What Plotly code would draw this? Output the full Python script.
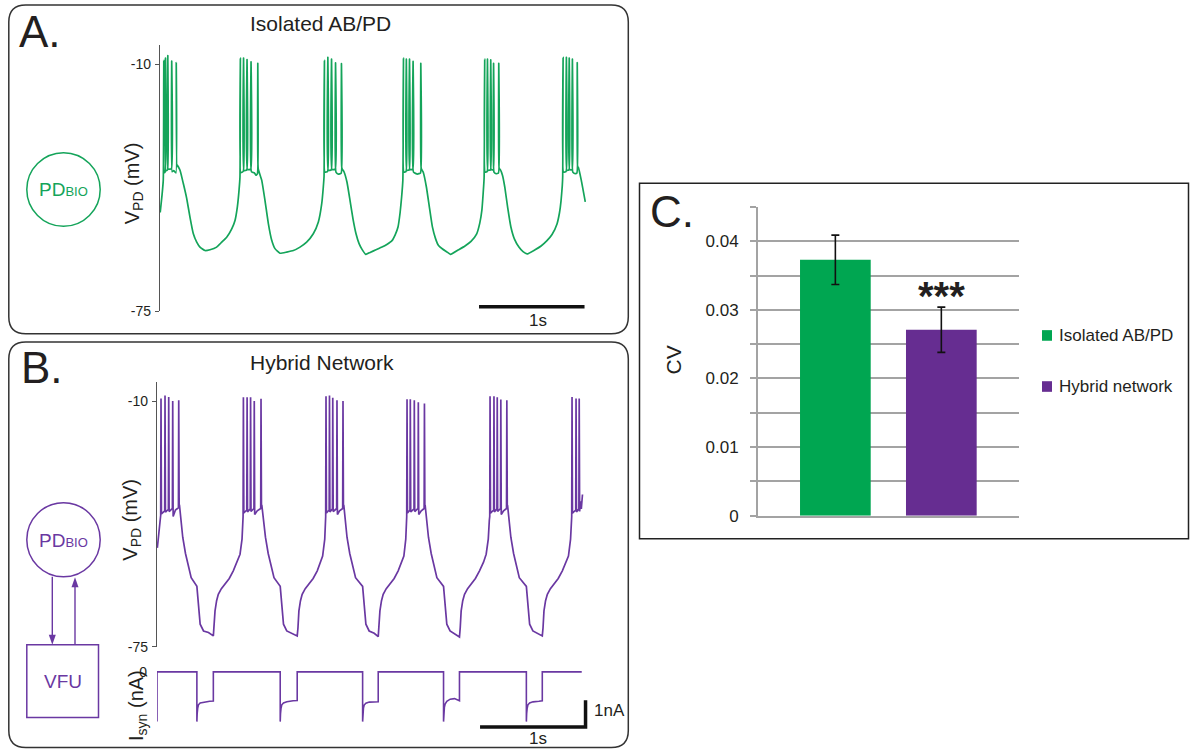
import plotly.graph_objects as go

# ---------------- data ----------------
# Panel A: membrane potential of the isolated AB/PD neuron, (time ms, mV)
vpd_isolated = [
    (2, -49.0), (19, -44.5), (31, -40.5),
    (36, -9.0), (40, -38.5), (49, -38.3), (52, -8.4), (56, -38.0), (71, -37.8), (74, -7.8), (78, -37.6),
    (108, -37.5), (111, -9.2), (115, -38.3), (130, -38.0), (151, -38.6), (154, -9.6), (158, -37.0), (163, -36.5),
    (190, -37.9), (221, -41.4), (253, -45.3), (284, -50.2), (316, -54.6), (348, -56.8), (379, -58.1), (427, -59.0),
    (474, -58.8), (537, -58.1), (585, -56.8), (632, -55.5), (680, -53.3), (711, -51.1), (733, -47.6), (749, -43.2),
    (758, -39.7),
    (762, -8.4), (766, -38.5), (789, -38.2), (792, -8.4), (796, -38.0), (822, -37.8), (825, -8.8), (829, -37.7),
    (860, -37.6), (863, -9.4), (867, -38.3), (895, -38.6), (910, -39.2), (924, -38.8), (927, -9.8), (931, -37.5),
    (964, -40.5), (995, -45.8), (1027, -51.9), (1059, -56.3), (1090, -58.5), (1137, -59.7), (1201, -59.4), (1264, -59.0),
    (1327, -58.1), (1390, -56.8), (1453, -54.6), (1501, -51.5), (1533, -46.7), (1548, -42.3), (1555, -39.5),
    (1559, -9.0), (1563, -38.4), (1588, -38.2), (1591, -8.2), (1595, -37.9), (1623, -37.8), (1626, -8.7), (1630, -37.7),
    (1661, -37.6), (1664, -9.7), (1668, -38.4), (1690, -38.9), (1717, -38.7), (1720, -9.9), (1724, -37.4), (1744, -38.3),
    (1772, -41.0), (1801, -45.8), (1830, -50.8), (1858, -54.6), (1887, -57.2), (1915, -58.7), (1950, -60.0), (1991, -59.5),
    (2047, -58.8), (2104, -58.1), (2150, -57.4), (2199, -56.4), (2230, -54.8), (2256, -52.8), (2276, -49.0), (2290, -45.0),
    (2302, -40.5),
    (2308, -8.4), (2312, -38.4), (2332, -38.2), (2335, -8.7), (2339, -37.9), (2362, -37.8), (2365, -8.7), (2369, -37.7),
    (2396, -37.6), (2399, -9.3), (2403, -38.4), (2440, -38.9), (2469, -38.6), (2472, -9.8), (2476, -37.4), (2496, -38.5),
    (2525, -42.3), (2553, -47.5), (2582, -52.8), (2611, -55.8), (2640, -57.7), (2678, -58.6), (2716, -59.3), (2754, -60.0),
    (2830, -58.8), (2891, -57.8), (2948, -56.6), (3002, -54.6), (3031, -51.8), (3051, -48.4), (3063, -44.0), (3072, -40.0),
    (3078, -8.7), (3082, -38.4), (3101, -38.2), (3104, -8.7), (3108, -37.9), (3132, -37.8), (3135, -8.9), (3139, -37.7),
    (3159, -37.8), (3162, -9.8), (3166, -38.4), (3185, -38.8), (3208, -38.6), (3211, -9.8), (3215, -37.4), (3227, -37.8),
    (3246, -39.2), (3268, -42.3), (3296, -47.8), (3326, -52.8), (3360, -56.0), (3402, -58.1), (3441, -59.3), (3479, -59.9),
    (3555, -58.8), (3612, -57.8), (3668, -56.4), (3716, -54.8), (3763, -52.0), (3787, -49.0), (3801, -46.0), (3813, -42.0),
    (3817, -39.6),
    (3821, -8.2), (3825, -38.4), (3849, -38.2), (3852, -8.2), (3856, -37.9), (3876, -37.8), (3879, -8.4), (3883, -37.7),
    (3906, -37.8), (3909, -8.7), (3913, -38.4), (3935, -38.8), (3952, -38.6), (3955, -9.6), (3959, -37.0), (3966, -37.2),
    (3993, -40.5), (4031, -46.2),
]

# Panel B: membrane potential in the hybrid network, (time ms, mV)
vpd_hybrid = [
    (3, -48.8), (14, -45.0), (31, -40.8),
    (35, -40.2), (38, -9.3), (42, -39.8), (73, -39.0), (76, -8.5), (80, -39.4), (108, -38.6), (111, -8.9), (115, -39.2),
    (146, -38.4), (149, -10.0), (153, -40.5), (175, -38.8), (203, -38.2), (206, -9.8), (210, -37.4),
    (213, -37.5), (244, -46.0), (270, -50.3), (291, -53.0), (324, -56.7), (378, -59.0), (393, -63.8), (409, -69.0),
    (441, -70.8), (488, -71.2), (534, -72.1), (540, -70.0), (550, -65.5), (565, -62.8), (581, -61.1), (610, -59.6),
    (645, -58.4), (685, -56.9), (723, -54.9), (760, -52.6), (787, -50.5), (806, -46.5), (814, -41.5),
    (816, -40.5), (819, -9.0), (823, -39.6), (851, -38.8), (854, -9.0), (858, -39.3), (884, -38.5), (887, -9.0), (891, -39.2),
    (919, -38.4), (922, -10.0), (926, -40.0), (950, -39.0), (983, -38.4), (986, -9.4), (990, -37.4),
    (994, -37.6), (1028, -46.0), (1054, -50.3), (1076, -53.0), (1109, -56.7), (1168, -59.0), (1183, -63.8), (1199, -69.0),
    (1230, -70.8), (1278, -71.4), (1329, -72.1), (1336, -70.0), (1345, -65.5), (1360, -62.8), (1376, -61.1), (1405, -59.6),
    (1440, -58.4), (1480, -56.9), (1519, -54.9), (1550, -52.6), (1570, -51.0), (1590, -46.5), (1597, -41.5),
    (1599, -40.5), (1602, -8.7), (1606, -39.6), (1632, -38.8), (1635, -8.5), (1639, -39.3), (1663, -38.5), (1666, -9.1), (1670, -39.2),
    (1703, -38.4), (1706, -9.8), (1710, -40.0), (1730, -39.0), (1760, -38.4), (1763, -10.0), (1767, -37.4),
    (1771, -37.6), (1801, -46.0), (1827, -50.3), (1848, -53.0), (1882, -56.7), (1949, -59.0), (1964, -63.8), (1980, -69.0),
    (2011, -70.8), (2059, -71.4), (2097, -72.3), (2103, -70.0), (2113, -65.5), (2128, -62.8), (2144, -61.1), (2173, -59.6),
    (2208, -58.4), (2248, -56.9), (2286, -54.9), (2318, -52.6), (2340, -51.0), (2358, -46.5), (2365, -41.5),
    (2367, -40.5), (2370, -9.5), (2374, -39.6), (2398, -38.8), (2401, -9.5), (2405, -39.3), (2436, -38.5), (2439, -9.8), (2443, -39.2),
    (2474, -38.4), (2477, -10.3), (2481, -40.0), (2505, -39.0), (2532, -38.4), (2535, -10.6), (2539, -37.4),
    (2542, -37.6), (2573, -46.0), (2599, -50.3), (2620, -53.0), (2653, -56.7), (2716, -59.0), (2731, -63.8), (2747, -69.0),
    (2778, -70.8), (2826, -71.6), (2867, -72.4), (2874, -70.0), (2883, -65.5), (2898, -62.8), (2915, -61.1), (2944, -59.6),
    (2978, -58.4), (3018, -56.9), (3057, -54.9), (3095, -52.6), (3120, -50.5), (3140, -46.5), (3150, -41.5),
    (3154, -40.5), (3157, -8.7), (3161, -39.6), (3191, -38.8), (3194, -8.7), (3198, -39.3), (3222, -38.5), (3225, -9.0), (3229, -39.2),
    (3256, -38.4), (3259, -9.6), (3263, -40.0), (3285, -39.0), (3313, -38.4), (3316, -9.8), (3320, -37.4),
    (3323, -37.6), (3354, -46.0), (3380, -50.3), (3401, -53.0), (3434, -56.7), (3501, -59.0), (3516, -63.8), (3532, -69.0),
    (3563, -70.8), (3611, -71.4), (3652, -72.1), (3659, -70.0), (3668, -65.5), (3683, -62.8), (3700, -61.1), (3729, -59.6),
    (3763, -58.4), (3803, -56.9), (3842, -54.9), (3878, -52.6), (3900, -51.0), (3920, -46.5), (3929, -41.5),
    (3931, -40.5), (3934, -8.9), (3938, -39.6), (3969, -38.8), (3972, -9.3), (3976, -39.3), (3999, -38.5), (4002, -9.3), (4006, -39.2),
    (4015, -36.5), (4022, -38.5), (4033, -34.7),
]

# Panel B: synaptic current from the VFU, (time ms, nA)
isyn_hybrid = [
    (0, -1.86), (0, 0.0),
    (378, 0.0), (378, -1.86), (381, -1.55), (386, -1.35), (393, -1.23), (409, -1.16), (441, -1.13), (500, -1.10), (534, -1.09), (534, 0.0),
    (1168, 0.0), (1168, -1.86), (1171, -1.55), (1176, -1.35), (1183, -1.23), (1199, -1.16), (1231, -1.12), (1290, -1.08), (1329, -1.07), (1329, 0.0),
    (1949, 0.0), (1949, -1.86), (1952, -1.55), (1957, -1.35), (1964, -1.24), (1980, -1.17), (2012, -1.13), (2060, -1.12), (2097, -1.12), (2097, 0.0),
    (2716, 0.0), (2716, -1.86), (2719, -1.55), (2724, -1.33), (2731, -1.20), (2747, -1.10), (2779, -1.02), (2820, -1.00), (2867, -1.08), (2867, 0.0),
    (3501, 0.0), (3501, -1.86), (3504, -1.55), (3509, -1.35), (3516, -1.23), (3532, -1.16), (3564, -1.12), (3620, -1.10), (3652, -1.08), (3652, 0.0),
    (4026, 0.0),
]

# Panel C: coefficient of variation
cv_groups = ["Isolated AB/PD", "Hybrid network"]
cv_means = [0.0373, 0.0271]
cv_errors = [0.0036, 0.0033]
cv_major_ticks = [0, 0.01, 0.02, 0.03, 0.04]
cv_minor_ticks = [0.005, 0.015, 0.025, 0.035, 0.045]
cv_ticktext = ["0", "0.01", "0.02", "0.03", "0.04"]
v_ticks = [-10, -75]
isyn_ticks = [0]

# ---------------- styling ----------------
W, H = 1196, 749          # reference canvas (layout positions are given in these pixels)
FIG_H = 760               # page height used for the figure
GREEN_TRACE = "#14a45a"
GREEN_BAR = "#00a651"
PURPLE_TRACE = "#6a38a2"
PURPLE_BAR = "#662d91"
INK = "#231f20"
AXIS = "#555555"
GRID = "#a3a3a3"
FONT = "Liberation Sans, Arial, sans-serif"
MS_PER_PX = 1000 / 105.5


def px(x):
    return x / W


def py(y):
    return 1 - y / H


a_t, a_v = zip(*vpd_isolated)
b_t, b_v = zip(*vpd_hybrid)
i_t, i_v = zip(*isyn_hybrid)

fig = go.Figure()
fig.add_trace(go.Scatter(x=a_t, y=a_v, mode="lines", line=dict(color=GREEN_TRACE, width=1.7, shape="spline", smoothing=0.4),
                         xaxis="x", yaxis="y", showlegend=False, hoverinfo="skip"))
fig.add_trace(go.Scatter(x=b_t, y=b_v, mode="lines", line=dict(color=PURPLE_TRACE, width=1.7),
                         xaxis="x2", yaxis="y2", showlegend=False, hoverinfo="skip"))
fig.add_trace(go.Scatter(x=i_t, y=i_v, mode="lines", line=dict(color=PURPLE_TRACE, width=1.6),
                         xaxis="x3", yaxis="y3", showlegend=False, hoverinfo="skip"))
bar_colors = [GREEN_BAR, PURPLE_BAR]
for name, m, e, c in zip(cv_groups, cv_means, cv_errors, bar_colors):
    fig.add_trace(go.Bar(x=["CV"], y=[m], name=name, marker=dict(color=c, line=dict(width=0)),
                         error_y=dict(type="data", array=[e], color="#111111", thickness=1.6, width=4),
                         xaxis="x4", yaxis="y4", showlegend=False))

span_a = 440 * MS_PER_PX
vaxis_common = dict(range=[-75, -5], tickvals=v_ticks, ticktext=[str(v) for v in v_ticks],
                    ticks="outside", ticklen=4, tickwidth=1.2, tickcolor=AXIS,
                    showline=True, linecolor=AXIS, linewidth=1.3, showgrid=False, zeroline=False,
                    tickfont=dict(size=14, color=INK, family=FONT), ticklabelstandoff=1)
fig.update_layout(
    xaxis=dict(domain=[px(160), px(600)], range=[0, span_a], visible=False, anchor="y"),
    yaxis=dict(domain=[py(311), py(45)], anchor="x", **vaxis_common),
    xaxis2=dict(domain=[px(157), px(597)], range=[0, span_a], visible=False, anchor="y2"),
    yaxis2=dict(domain=[py(646), py(381.7)], anchor="x2", **vaxis_common),
    xaxis3=dict(domain=[px(157), px(597)], range=[0, span_a], visible=False, anchor="y3"),
    yaxis3=dict(domain=[py(732), py(655)], anchor="x3", range=[-2.285, 0.599], tickvals=isyn_ticks,
                ticktext=[str(v) for v in isyn_ticks],
                ticks="", showline=False, showgrid=False, zeroline=False, ticklabelstandoff=9,
                tickfont=dict(size=14, color=INK, family=FONT)),
    xaxis4=dict(domain=[px(758), px(1018.7)], anchor="y4", type="category", showticklabels=False,
                ticks="", showline=True, linecolor=GRID, linewidth=2, showgrid=False, zeroline=False),
    yaxis4=dict(domain=[py(515), py(206.7)], anchor="x4", range=[0, 0.045],
                tickvals=cv_major_ticks, ticktext=cv_ticktext,
                ticks="outside", ticklen=6, tickwidth=2, tickcolor=GRID, showline=True, linecolor=GRID, linewidth=2,
                showgrid=True, gridcolor=GRID, gridwidth=2, zeroline=False, ticklabelstandoff=8,
                minor=dict(tickvals=cv_minor_ticks, ticks="outside", ticklen=6, tickwidth=2, tickcolor=GRID,
                           showgrid=True, gridcolor=GRID, gridwidth=2),
                tickfont=dict(size=17, color=INK, family=FONT)),
    barmode="group", bargap=0.187, bargroupgap=0.333,
    width=W, height=FIG_H, margin=dict(l=0, r=0, t=0, b=0),
    paper_bgcolor="white", plot_bgcolor="rgba(0,0,0,0)",
    font=dict(family=FONT, color=INK),
    showlegend=False,
)


def rounded_box(x0, y0, x1, y1, r):
    pts = [
        f"M{px(x0 + r)},{py(y0)}", f"L{px(x1 - r)},{py(y0)}", f"Q{px(x1)},{py(y0)} {px(x1)},{py(y0 + r)}",
        f"L{px(x1)},{py(y1 - r)}", f"Q{px(x1)},{py(y1)} {px(x1 - r)},{py(y1)}",
        f"L{px(x0 + r)},{py(y1)}", f"Q{px(x0)},{py(y1)} {px(x0)},{py(y1 - r)}",
        f"L{px(x0)},{py(y0 + r)}", f"Q{px(x0)},{py(y0)} {px(x0 + r)},{py(y0)}", "Z",
    ]
    return " ".join(pts)


def tri(points):
    return "M" + " L".join(f"{px(x)},{py(y)}" for x, y in points) + " Z"


shapes = []
# panel frames
shapes.append(dict(type="path", xref="paper", yref="paper", path=rounded_box(8.8, 5, 628.3, 333.3, 17),
                   line=dict(color="#333333", width=1.5)))
shapes.append(dict(type="path", xref="paper", yref="paper", path=rounded_box(8.8, 341.5, 628.3, 746.5, 17),
                   line=dict(color="#333333", width=1.5)))
shapes.append(dict(type="rect", xref="paper", yref="paper", x0=px(639.5), x1=px(1188.5), y0=py(538), y1=py(183),
                   line=dict(color="#222222", width=1.5)))
# cell diagrams
shapes.append(dict(type="circle", xref="paper", yref="paper", x0=px(26.8), x1=px(100.2), y0=py(226), y1=py(152.5),
                   line=dict(color=GREEN_TRACE, width=1.5)))
shapes.append(dict(type="circle", xref="paper", yref="paper", x0=px(26.8), x1=px(100.2), y0=py(576), y1=py(502),
                   line=dict(color=PURPLE_TRACE, width=1.5)))
shapes.append(dict(type="rect", xref="paper", yref="paper", x0=px(26.8), x1=px(98.5), y0=py(716.5), y1=py(644),
                   line=dict(color=PURPLE_TRACE, width=1.5)))
# arrows PD -> VFU and VFU -> PD
shapes.append(dict(type="line", xref="paper", yref="paper", x0=px(52.3), x1=px(52.3), y0=py(576), y1=py(636),
                   line=dict(color=PURPLE_TRACE, width=1.4)))
shapes.append(dict(type="path", xref="paper", yref="paper", path=tri([(52.3, 644), (48.8, 634), (55.8, 634)]),
                   fillcolor=PURPLE_TRACE, line=dict(width=0)))
shapes.append(dict(type="line", xref="paper", yref="paper", x0=px(75), x1=px(75), y0=py(644), y1=py(585),
                   line=dict(color=PURPLE_TRACE, width=1.4)))
shapes.append(dict(type="path", xref="paper", yref="paper", path=tri([(75, 576.5), (71.5, 586.5), (78.5, 586.5)]),
                   fillcolor=PURPLE_TRACE, line=dict(width=0)))
# scale bars (in data units: 1 s, 1 nA)
shapes.append(dict(type="path", xref="x", yref="y", path=f"M{3024},{-73.8} L{4024},{-73.8}",
                   line=dict(color="#111111", width=3.5)))
shapes.append(dict(type="path", xref="x3", yref="y3", path=f"M{3062},{-2.06} L{4062},{-2.06} L{4062},{-1.06}",
                   line=dict(color="#111111", width=3.5)))
# legend swatches
for c, yc in zip(bar_colors, [335, 386]):
    shapes.append(dict(type="rect", xref="paper", yref="paper", x0=px(1042), x1=px(1052), y0=py(yc + 5.3), y1=py(yc - 5.3),
                       fillcolor=c, line=dict(width=0)))
fig.update_layout(shapes=shapes)

ann = []


def text(t, x, y, size, color=INK, xanchor="center", yanchor="middle", angle=0, bold=False):
    ann.append(dict(text=f"<b>{t}</b>" if bold else t, x=px(x), y=py(y), xref="paper", yref="paper",
                    xanchor=xanchor, yanchor=yanchor, showarrow=False, textangle=angle,
                    font=dict(size=size, color=color, family=FONT)))


text("A.", 17, 31.5, 44, xanchor="left")
text("B.", 19, 367.5, 44, xanchor="left")
text("C.", 648, 211, 44, xanchor="left")
text("Isolated AB/PD", 320, 23, 21)
text("Hybrid Network", 322, 362, 21)
text("V<sub>PD</sub> (mV)", 133, 183, 20, angle=-90)
text("V<sub>PD</sub> (mV)", 132, 519, 20, angle=-90)
text("I<sub>syn</sub> (nA)", 138, 705, 20, angle=-90)
text("1s", 538, 320, 17)
text("1s", 538, 738, 17)
text("1nA", 592, 710, 17, xanchor="left")
text("PD<span style='font-size:13px'>BIO</span>", 63.5, 189.5, 19, color=GREEN_TRACE)
text("PD<span style='font-size:13px'>BIO</span>", 63.5, 539.5, 19, color=PURPLE_TRACE)
text("VFU", 62.5, 681, 19, color=PURPLE_TRACE)
text("CV", 673, 360, 21, angle=-90)
text("***", 941, 296, 40, bold=True)
for name, yc in zip(cv_groups, [335, 386]):
    text(name, 1057, yc, 17, xanchor="left")
fig.update_layout(annotations=ann)

fig.write_html("out.html")
